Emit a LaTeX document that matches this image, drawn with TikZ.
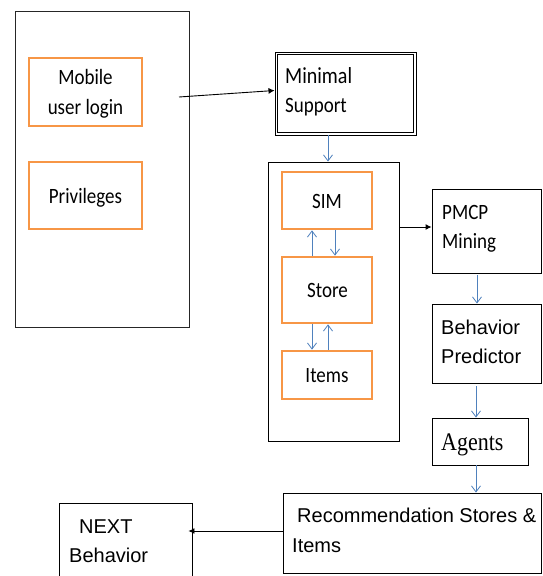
\documentclass[tikz,border=0pt]{standalone}
\usepackage{fontspec}
\setmainfont{Liberation Sans}
\newfontfamily\carl{Carlito}
\newfontfamily\tnr{Liberation Serif}
\usetikzlibrary{arrows.meta}
\definecolor{boxorange}{RGB}{247,150,70}
\definecolor{arrowblue}{RGB}{79,129,189}
\newcommand\vstretch[1]{\scalebox{1}[1.15]{#1}}
\begin{document}
\begin{tikzpicture}[x=1pt,y=-1pt,
  plainbox/.style={draw=black, line width=0.9pt, inner sep=0pt},
  orangebox/.style={draw=boxorange, line width=2.8pt, inner sep=0pt},
  innerline/.style={draw=black, line width=0.9pt},
  blackarrow/.style={draw=black, line width=0.9pt, -{Latex[length=6pt,width=6pt]}},
  bluearrow/.style={draw=arrowblue, line width=0.8pt, -{Straight Barb[length=6pt,width=9pt]}},
  caltext/.style={inner sep=0pt, font=\carl\fontsize{19}{23}\selectfont},
  ariatext/.style={inner sep=0pt, font=\fontsize{20}{24}\selectfont},
  timestext/.style={inner sep=0pt, font=\tnr\fontsize{22}{26}\selectfont}]
\clip (0,0) rectangle (542,576);
\fill[white] (0,0) rectangle (542,576);

% boxes
\node[plainbox, draw=black!85, minimum width=174pt, minimum height=316pt] (panel) at (102,169) {};
\node[orangebox, minimum width=113pt, minimum height=68pt] (login) at (85.5,92) {};
\node[orangebox, minimum width=113pt, minimum height=67pt] (priv) at (85.5,195.5) {};
\node[plainbox, minimum width=141pt, minimum height=83pt] (minimal) at (345.5,93.5) {};
\draw[innerline] ([shift={(2.6pt,2.6pt)}]minimal.south west) rectangle ([shift={(-2.6pt,-2.6pt)}]minimal.north east);
\node[plainbox, minimum width=131pt, minimum height=279pt] (container) at (333.5,301.5) {};
\node[orangebox, minimum width=90pt, minimum height=57pt] (sim) at (327,200.5) {};
\node[orangebox, minimum width=90pt, minimum height=66pt] (store) at (327,290) {};
\node[orangebox, minimum width=90pt, minimum height=48pt] (items) at (327,375) {};
\node[plainbox, minimum width=109pt, minimum height=84pt] (pmcp) at (486.5,231) {};
\node[plainbox, minimum width=109pt, minimum height=79pt] (behav) at (486.5,343.5) {};
\node[plainbox, minimum width=96pt, minimum height=47pt] (agents) at (480,441.5) {};
\node[plainbox, minimum width=258pt, minimum height=80pt] (recom) at (412,533) {};
\node[plainbox, minimum width=133pt, minimum height=84pt] (next) at (125.5,545) {};

% texts
\node[caltext, anchor=base] (t1) at (85.5,84) {\vstretch{Mobile}};
\node[caltext, anchor=base] (t2) at (85.5,114) {\vstretch{user login}};
\node[caltext, anchor=base] (t3) at (85.5,203) {\vstretch{Privileges}};
\node[caltext, font=\carl\fontsize{20}{24}\selectfont, anchor=base west] (t4) at (285,83) {\vstretch{Minimal}};
\node[caltext, anchor=base west] (t5) at (285,112) {\vstretch{Support}};
\node[caltext, anchor=base] (t6) at (327,208) {\vstretch{SIM}};
\node[caltext, anchor=base] (t7) at (327.5,297) {\vstretch{Store}};
\node[caltext, anchor=base] (t8) at (327,382) {\vstretch{Items}};
\node[caltext, anchor=base west] (t9) at (442,219) {\vstretch{PMCP}};
\node[caltext, anchor=base west] (t10) at (442,248) {\vstretch{Mining}};
\node[ariatext, anchor=base west] (t11) at (441,334) {Behavior};
\node[ariatext, anchor=base west] (t12) at (441,363) {Predictor};
\node[timestext, anchor=base west] (t13) at (441,450) {\vstretch{Agents}};
\node[ariatext, anchor=base west] (t14) at (297,522) {Recommendation Stores \&};
\node[ariatext, anchor=base west] (t15) at (292,552) {Items};
\node[ariatext, anchor=base west] (t16) at (79,533) {NEXT};
\node[ariatext, anchor=base west] (t17) at (69,562) {Behavior};

% connectors
\coordinate (loginout) at (179,97);
\draw[blackarrow] (loginout) -- ([yshift=3pt]minimal.west);
\draw[bluearrow] ([xshift=-17.5pt]minimal.south) -- ([xshift=-5.5pt]container.north);
\draw[bluearrow] ([xshift=-15pt]store.north) -- ([xshift=-15pt]sim.south);
\draw[bluearrow] ([xshift=8pt]sim.south) -- ([xshift=8pt]store.north);
\draw[bluearrow] ([xshift=-15pt]store.south) -- ([xshift=-15pt]items.north);
\draw[bluearrow] ([xshift=1pt]items.north) -- ([xshift=1pt]store.south);
\draw[blackarrow] ([yshift=74.5pt]container.east) -- ([yshift=4pt]pmcp.west);
\draw[bluearrow] ([xshift=-9.5pt,yshift=-2pt]pmcp.south) -- ([xshift=-9.5pt]behav.north);
\draw[bluearrow] ([xshift=-10.5pt,yshift=-3pt]behav.south) -- ([xshift=-4pt]agents.north);
\draw[bluearrow] ([xshift=-4pt]agents.south) -- ([xshift=64pt]recom.north);
\draw[blackarrow, shorten >=-4pt] ([yshift=2pt]recom.west) -- ([yshift=14pt]next.east);
\end{tikzpicture}
\end{document}
